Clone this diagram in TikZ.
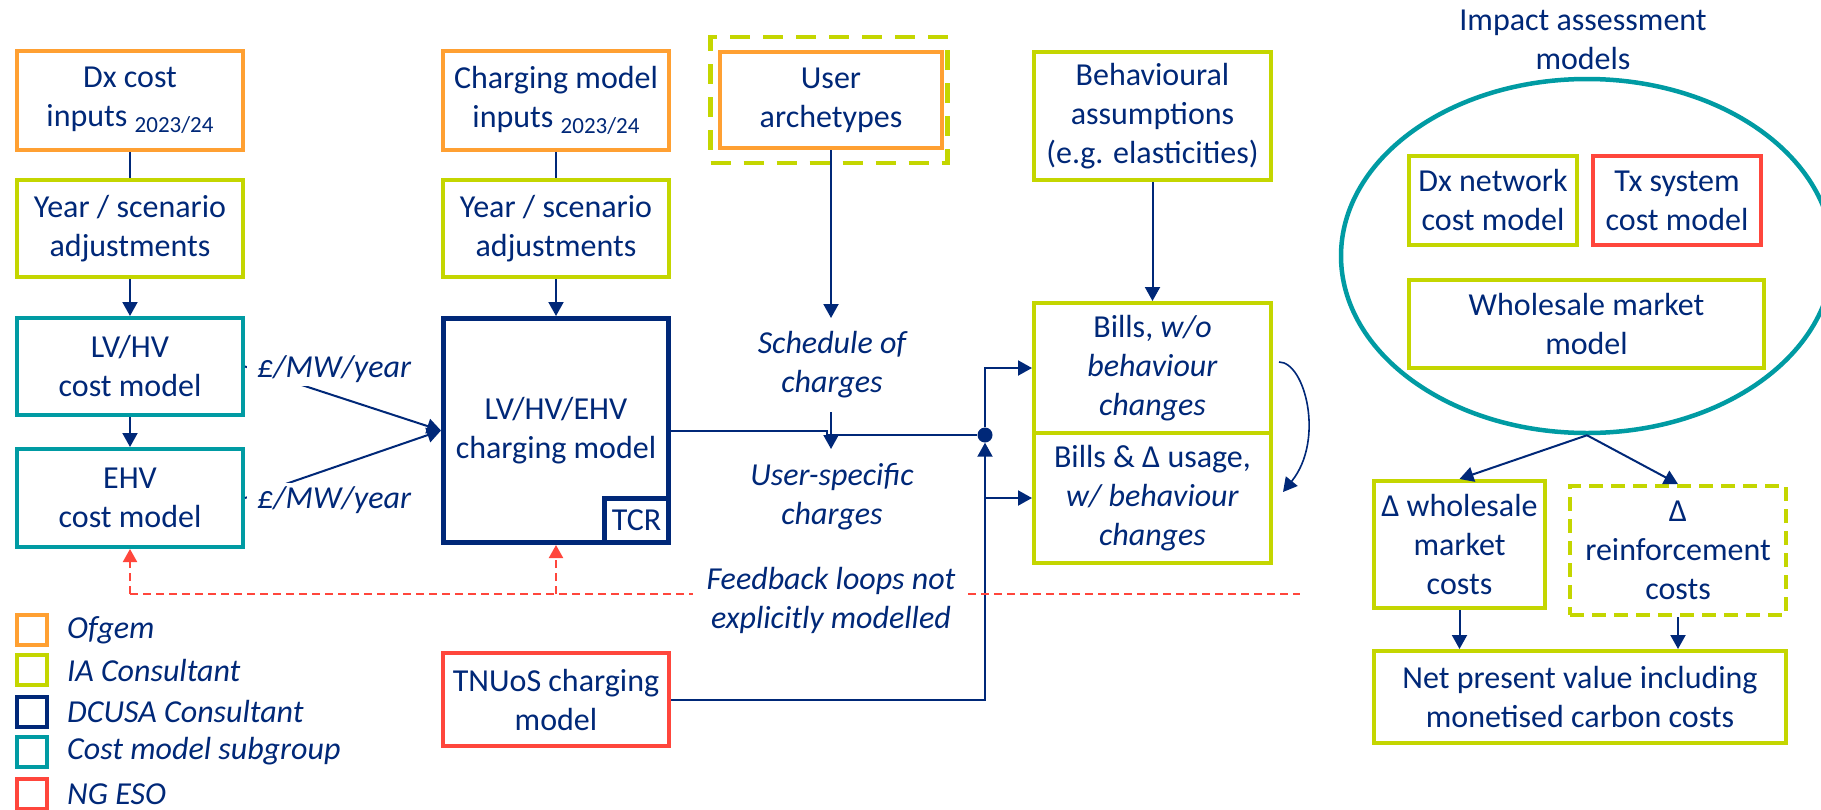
\documentclass[tikz,border=0pt]{standalone}
\usepackage{fontspec}
\setmainfont{Carlito}
\usetikzlibrary{arrows.meta,shapes.geometric,calc}
\definecolor{navy}{RGB}{0,40,120}
\definecolor{ora}{RGB}{255,160,50}
\definecolor{lime}{RGB}{196,214,0}
\definecolor{tealc}{RGB}{0,155,163}
\definecolor{redc}{RGB}{255,70,60}
\newcommand\yrsub[1]{\raisebox{-6pt}{\fontsize{23}{23}\selectfont #1}}
\begin{document}
\begin{tikzpicture}[x=1pt,y=-1pt,
  every node/.style={text=navy, font=\fontsize{32}{39}\selectfont, inner sep=0pt, align=center},
  box/.style={draw, line width=4pt, minimum width=226pt, minimum height=97pt},
  obox/.style={box, draw=ora},
  gbox/.style={box, draw=lime},
  tbox/.style={box, draw=tealc},
  rbox/.style={box, draw=redc},
  nbox/.style={box, draw=navy, line width=5pt},
  itx/.style={font=\fontsize{32}{39}\selectfont\itshape},
  lbl/.style={itx, fill=white, inner xsep=10pt, inner ysep=3pt},
  leg/.style={draw, line width=4pt, minimum size=30pt},
  legt/.style={itx, anchor=west},
  plain/.style={draw=navy, line width=2pt},
  conn/.style={plain, -{Triangle[length=14pt,width=15pt]}},
  fbline/.style={draw=redc, line width=2pt, dash pattern=on 8pt off 5pt},
  fb/.style={fbline, -{Triangle[length=13pt,width=14pt]}}
]
\path[use as bounding box, fill=white] (0,0) rectangle (1821,809);

% left column
\node[obox, minimum height=99pt] (dxin) at (130,100.5) {Dx cost\\inputs \yrsub{2023/24}};
\node[gbox] (yr1) at (130,228.5) {Year / scenario\\adjustments};
\node[tbox] (lvhv) at (130,366.5) {LV/HV\\cost model};
\node[tbox, minimum height=98pt] (ehv) at (130,498) {EHV\\cost model};

% middle column
\node[obox, minimum height=99pt] (cmin) at (556,100.5) {Charging model\\inputs \yrsub{2023/24}};
\node[gbox] (yr2) at (556,228.5) {Year / scenario\\adjustments};
\node[nbox, minimum width=225pt, minimum height=224pt] (cm) at (556,430.5) {LV/HV/EHV\\charging model};
\node[nbox, minimum width=64pt, minimum height=44pt] (tcr) at (636.5,520.5) {TCR};
\node[rbox, minimum height=93pt] (tnuos) at (556,699.5) {TNUoS charging\\model};

% user archetypes
\node[draw=lime, line width=4.5pt, dash pattern=on 20pt off 13pt, minimum width=237pt, minimum height=126pt] (userg) at (829,100) {};
\node[obox, minimum width=222pt, minimum height=96pt] (user) at (831,100) {User\\archetypes};
\node[itx] (sched) at (832,365) {Schedule of\\charges};
\node[itx] (usp) at (832,497) {User-specific\\charges};
\node[itx] (fbt) at (831,600) {Feedback loops not\\explicitly modelled};
\coordinate (s1) at (831,318);
\coordinate (s2) at (831,412);
\coordinate (s3) at (831,449);

% behaviour column
\node[gbox, minimum width=237pt, minimum height=128pt] (behav) at (1152.5,116) {Behavioural\\assumptions\\(e.g. elasticities)};
\node[gbox, minimum width=237pt, minimum height=130pt] (billsA) at (1152.5,368) {Bills, \textit{w/o}\\\textit{behaviour}\\\textit{changes}};
\node[gbox, minimum width=237pt, minimum height=130pt] (billsB) at (1152.5,498) {Bills \& Δ usage,\\\textit{w/ behaviour}\\\textit{changes}};
\node[circle, fill=navy, minimum size=15pt, inner sep=0pt] (dot) at (985,435) {};
\coordinate (kink) at (827,430.5);
\coordinate (ca) at (1279,362);
\coordinate (cb) at (1283,492);

% impact assessment
\node (imp) at (1583,40) {Impact assessment\\models};
\node[draw=tealc, line width=4.5pt, ellipse, minimum width=492pt, minimum height=354pt] (ell) at (1587,256) {};
\node[gbox, minimum width=168pt, minimum height=89pt] (dxn) at (1493,200.5) {Dx network\\cost model};
\node[rbox, minimum width=168pt, minimum height=89pt] (txs) at (1677,200.5) {Tx system\\cost model};
\node[gbox, minimum width=355pt, minimum height=88pt] (whm) at (1586.5,324) {Wholesale market\\model};
\node[gbox, minimum width=171pt, minimum height=127pt] (dwh) at (1459.5,544.5) {Δ wholesale\\market\\costs};
\node[gbox, dash pattern=on 14pt off 8pt, minimum width=216pt, minimum height=129pt] (drf) at (1678,550.5) {Δ\\reinforcement\\costs};
\node[gbox, minimum width=412pt, minimum height=92pt] (npv) at (1580,697) {Net present value including\\monetised carbon costs};

% connectors
\draw[plain] (dxin) -- (yr1);
\draw[conn] (yr1) -- (lvhv);
\draw[conn] (lvhv) -- (ehv);
\draw[plain] (cmin) -- (yr2);
\draw[conn] (yr2) -- (cm);
\draw[conn] (lvhv.east) -- (cm.west);
\draw[conn] (ehv.east) -- (cm.west);
\node[lbl] (l1) at (334,369) {£/MW/year};
\node[lbl] (l2) at (334,500) {£/MW/year};

\draw[conn] (user.south) -- (s1);
\draw[conn] (s2) -- (s3);
\draw[plain] (cm.east) -- (kink) |- (dot);
\draw[conn] (tnuos.east) -| (dot.south);
\draw[conn] (dot.north) |- (billsA.west);
\draw[conn] (dot |- billsB.west) -- (billsB.west);
\draw[conn] (behav.south) -- (billsA.north);
\draw[draw=navy, line width=1.6pt, -{Triangle[length=14pt,width=15pt]}] (ca) .. controls (1305,362) and (1325,440) .. (cb);

\draw[conn] (ell.south) -- (dwh.north);
\draw[conn] (ell.south) -- (drf.north);
\draw[conn] (dwh.south) -- (dwh.south |- npv.north);
\draw[conn] (drf.south) -- (drf.south |- npv.north);

% feedback
\coordinate (fL) at (130,594);
\coordinate (fM) at (556,594);
\coordinate (fE1) at (693,594);
\coordinate (fS) at (968,594);
\coordinate (fE2) at (1300,594);
\draw[fbline] (fL) -- (fE1);
\draw[fbline] (fS) -- (fE2);
\draw[fb] (fL) -- (ehv.south);
\draw[fb] (fM) -- (cm.south);

% legend
\node[leg, draw=ora] (lg1) at (32,630) {};
\node[leg, draw=lime] (lg2) at (32,670) {};
\node[leg, draw=navy] (lg3) at (32,711.5) {};
\node[leg, draw=tealc] (lg4) at (32,751.5) {};
\node[leg, draw=redc] (lg5) at (32,794) {};
\node[legt] (lt1) at ([xshift=18pt]lg1.east) {Ofgem};
\node[legt] (lt2) at ([xshift=18pt]lg2.east) {IA Consultant};
\node[legt] (lt3) at ([xshift=18pt]lg3.east) {DCUSA Consultant};
\node[legt] (lt4) at ([xshift=18pt]lg4.east) {Cost model subgroup};
\node[legt] (lt5) at ([xshift=18pt]lg5.east) {NG ESO};
\end{tikzpicture}
\end{document}
